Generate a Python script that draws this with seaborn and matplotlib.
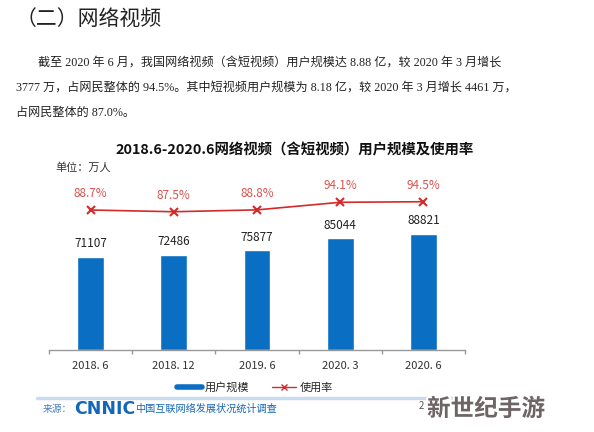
import matplotlib
matplotlib.use("Agg")
import matplotlib.pyplot as plt
import matplotlib.patheffects as pe
from matplotlib.lines import Line2D
import seaborn as sns
import pandas as pd
import numpy as np

sns.set_theme(style="white")
plt.rcParams['font.family'] = ['Noto Sans CJK SC', 'DejaVu Sans']

# data
periods = ['2018. 6', '2018. 12', '2019. 6', '2020. 3', '2020. 6']
users = [71107, 72486, 75877, 85044, 88821]          # 万人
usage_rate = [88.7, 87.5, 88.8, 94.1, 94.5]          # %

df = pd.DataFrame({'period': periods, 'users': users, 'rate': usage_rate})

W, H = 594, 432
fig = plt.figure(figsize=(W / 100, H / 100), dpi=100)
fig.patch.set_facecolor('white')


def px(x, y):
    return x / W, 1 - y / H


serif = ['Liberation Serif', 'Noto Sans CJK SC']

# document text
fig.text(*px(16, 20), '（二）网络视频', fontsize=15, color='#222222', va='center', family=serif)
lines = [
    (38, 63, '截至 2020 年 6 月，我国网络视频（含短视频）用户规模达 8.88 亿，较 2020 年 3 月增长'),
    (16, 88, '3777 万，占网民整体的 94.5%。其中短视频用户规模为 8.18 亿，较 2020 年 3 月增长 4461 万，'),
    (16, 113, '占网民整体的 87.0%。'),
]
for x, y, s in lines:
    fig.text(*px(x, y), s, fontsize=8.7, color='#222222', va='center', family=serif)

# chart title and unit
fig.text(*px(295, 150), '2018.6-2020.6网络视频（含短视频）用户规模及使用率', fontsize=10.4,
         fontweight='bold', color='#111111', ha='center', va='center')
fig.text(*px(55, 168), '单位：万人', fontsize=8, color='#333333', va='center')

# main axes
ax = fig.add_axes([49 / W, 1 - 350 / H, (465 - 49) / W, 160 / H])
ax.set_facecolor('none')
sns.barplot(data=df, x='period', y='users', color='#0A6FC2', width=0.32,
            saturation=1, ax=ax, zorder=2)
ax.set_xlim(-0.5, 4.5)
ax.set_ylim(0, 122000)
ax.set_xlabel('')
ax.set_ylabel('')
ax.set_yticks([])
for s in ['top', 'right', 'left']:
    ax.spines[s].set_visible(False)
ax.spines['bottom'].set_color('#999999')
ax.spines['bottom'].set_linewidth(1)
ax.set_xticks(np.arange(-0.5, 5, 1), minor=True)
ax.tick_params(axis='x', which='minor', length=3, color='#999999', bottom=True)
ax.tick_params(axis='x', which='major', length=0, pad=8, labelsize=8, labelcolor='#333333')
for i, v in enumerate(users):
    ax.text(i, v + 5000, str(v), ha='center', va='bottom', fontsize=8.5, color='#222222')

# usage rate line
ax2 = ax.twinx()
sns.lineplot(x=np.arange(len(usage_rate)), y=usage_rate, color='#D42A2A', lw=1.2,
             marker='x', markersize=6, markeredgewidth=1.5, markeredgecolor='#D42A2A',
             ax=ax2)
ax2.set_ylim(-9.2, 102.7)
ax2.set_yticks([])
ax2.set_ylabel('')
for s in ['top', 'right', 'left', 'bottom']:
    ax2.spines[s].set_visible(False)
for i, v in enumerate(usage_rate):
    ax2.text(i, v + 7, f'{v}%', ha='center', va='bottom', fontsize=8.5, color='#D9534F')

# legend
handles = [Line2D([], [], color='#0A6FC2', lw=4),
           Line2D([], [], color='#D42A2A', lw=1, marker='x', markersize=5)]
fig.legend(handles, ['用户规模', '使用率'], loc='center', bbox_to_anchor=px(255, 387),
           ncol=2, frameon=False, fontsize=8, handlelength=2.2, columnspacing=2.0,
           handletextpad=0.3)

# footer
fig.add_artist(Line2D([37 / W, 465 / W], [1 - 398 / H] * 2, color='#C8DCEF', lw=2.5))
fig.text(*px(43, 409), '来源：', fontsize=7, color='#4A7FBF', va='center')
fig.text(*px(74, 409), 'CNNIC', fontsize=12.5, fontweight='bold', color='#1466B8',
         va='center', family=['DejaVu Sans'])
fig.text(*px(135, 409), '中国互联网络发展状况统计调查', fontsize=7.3, color='#1466B8', va='center')
fig.text(*px(419, 406), '2', fontsize=7, color='#555555', va='center')
fig.text(*px(427, 409), '新世纪手游', fontsize=17, fontweight='bold', color='#6E6466',
         va='center', path_effects=[pe.withStroke(linewidth=3, foreground='white')])

fig.savefig('out.png', dpi=100)
